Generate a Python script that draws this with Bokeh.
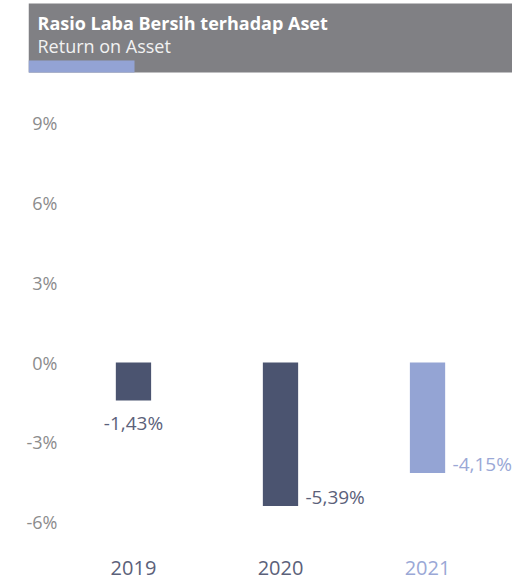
from bokeh.plotting import figure
from bokeh.models import Range1d, FixedTicker, PrintfTickFormatter, ColumnDataSource
from bokeh.core.properties import value
from bokeh.embed import file_html
from bokeh.resources import INLINE

# ---- data ----
years = [2019, 2020, 2021]
year_labels = ["2019", "2020", "2021"]
roa = [-1.43, -5.39, -4.15]
roa_labels = ["-1,43%", "-5,39%", "-4,15%"]
bar_colors = ["#4B5470", "#4B5470", "#94A4D4"]
text_colors = ["#5B617A", "#5B617A", "#9AA8D6"]
y_ticks = [-6, -3, 0, 3, 6, 9]
title = "Rasio Laba Bersih terhadap Aset"
subtitle = "Return on Asset"

FONT = "Open Sans"
W, H = 512, 582
FL = 28  # frame left (canvas px)

p = figure(width=W, height=H, x_range=Range1d(2018.286, 2021.578),
           y_range=Range1d(-8.27, 13.61), output_backend="svg", toolbar_location=None,
           min_border_left=FL, min_border_right=0, min_border_top=0, min_border_bottom=0,
           outline_line_color=None, background_fill_color="white", border_fill_color="white")
# pixel-like helper ranges for the header band
p.extra_x_ranges["px"] = Range1d(FL, W)
p.extra_y_ranges["py"] = Range1d(H, 0)

p.grid.visible = False
p.xaxis.visible = False
p.yaxis.ticker = FixedTicker(ticks=y_ticks)
p.yaxis.formatter = PrintfTickFormatter(format="%d%%")
p.yaxis.axis_line_color = None
p.yaxis.major_tick_line_color = None
p.yaxis.minor_tick_line_color = None
p.yaxis.major_tick_out = 0
p.yaxis.major_tick_in = 0
p.yaxis.major_label_standoff = -29
p.yaxis.major_label_text_font = FONT
p.yaxis.major_label_text_font_size = "18px"
p.yaxis.major_label_text_color = "#8C8C8C"

# ---- header ----
p.quad(left=FL, right=W, top=3, bottom=72, fill_color="#808084", line_color=None,
       x_range_name="px", y_range_name="py")
p.quad(left=FL, right=134, top=60, bottom=72, fill_color="#93A3D4", line_color=None,
       x_range_name="px", y_range_name="py")
p.text(x=[37], y=[22], text=[title], text_font=value(FONT), text_font_style="bold",
       text_font_size="18px", text_color="white", text_baseline="middle",
       x_range_name="px", y_range_name="py")
p.text(x=[37], y=[45], text=[subtitle], text_font=value(FONT),
       text_font_size="18px", text_color="#F2F2F2", text_baseline="middle",
       x_range_name="px", y_range_name="py")

# ---- bars ----
src = ColumnDataSource(dict(x=years, top=[0] * 3, bottom=roa, color=bar_colors))
p.vbar(x="x", top="top", bottom="bottom", width=0.24, fill_color="color",
       line_color=None, source=src)

# data labels
d0 = ColumnDataSource(dict(x=years[:1], y=roa[:1], lab=roa_labels[:1], c=text_colors[:1]))
d1 = ColumnDataSource(dict(x=years[1:], y=roa[1:], lab=roa_labels[1:], c=text_colors[1:]))
p.text(x="x", y="y", text="lab", source=d0, text_align="center", text_baseline="middle",
       y_offset=22, text_font=value(FONT), text_font_size="19px", text_color="c")
p.text(x="x", y="y", text="lab", source=d1, text_align="left", text_baseline="middle",
       x_offset=25, y_offset=-9, text_font=value(FONT), text_font_size="19px", text_color="c")

# year labels
ysrc = ColumnDataSource(dict(x=years, y=[-7.74] * 3, lab=year_labels, c=text_colors))
p.text(x="x", y="y", text="lab", source=ysrc, text_align="center", text_baseline="middle",
       text_font=value(FONT), text_font_size="20px", text_color="c")

open("out.html", "w").write(file_html(p, INLINE))
